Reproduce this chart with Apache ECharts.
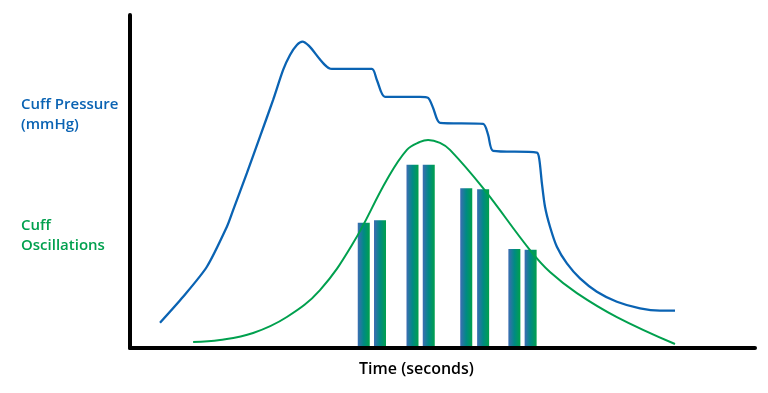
<!DOCTYPE html>
<html>
<head>
<meta charset="utf-8">
<script src="https://cdn.jsdelivr.net/npm/echarts@6/dist/echarts.min.js"></script>
<style>html,body{margin:0;padding:0;background:#fff;}#c{width:768px;height:393px;}</style>
</head>
<body>
<div id="c"></div>
<script>
// Cuff pressure curve: [time, level]
const pressureX = [4.8, 8.5, 12.3, 15.5, 16.5, 18.7, 20.8, 22.9, 24.5, 25.6, 26.7, 27.6, 28.6, 32.3, 38.7, 39.5, 40.8, 46.4, 47.7, 48.5, 49.6, 56.5, 57.3, 58.1, 65.1, 65.5, 65.9, 66.4, 67.2, 68.3, 69.9, 72.0, 74.7, 77.9, 81.6, 84.8, 87.2];
const pressureY = [7.6, 15.4, 24.4, 36.4, 41.4, 52.5, 63.5, 74.5, 83.5, 88.0, 91.0, 92.0, 90.8, 83.8, 83.8, 80.5, 75.4, 75.4, 75.1, 72.1, 67.6, 67.3, 64.0, 59.2, 58.7, 56.5, 49.5, 42.4, 36.4, 30.4, 25.4, 20.9, 16.9, 13.9, 11.9, 11.2, 11.2];
// Oscillation envelope
const envelopeX = [10.1, 14.4, 19.7, 25.1, 30.4, 35.7, 41.1, 44.3, 46.4, 47.7, 49.6, 51.2, 56.5, 64.0, 67.2, 71.5, 77.9, 87.2];
const envelopeY = [1.8, 2.4, 4.5, 9.3, 17.4, 31.5, 50.5, 59.5, 61.9, 62.5, 61.6, 59.5, 48.0, 29.4, 22.8, 16.5, 9.3, 1.2];
// Oscillation bars
const barX = [37.4, 40.0, 45.2, 47.8, 53.8, 56.5, 61.5, 64.1];
const barY = [37.6, 38.4, 55.0, 55.0, 48.0, 47.7, 29.7, 29.5];
const labels = { pressure: ['Cuff Pressure', '(mmHg)'], osc: ['Cuff', 'Oscillations'], time: 'Time (seconds)' };

const zip = (a, b) => a.map((v, i) => [v, b[i]]);
const chart = echarts.init(document.getElementById('c'), null, { renderer: 'canvas' });
const font = '"Open Sans", "Noto Sans", sans-serif';
chart.setOption({
  animation: false,
  backgroundColor: '#ffffff',
  grid: { left: 130, right: 13, top: 15, bottom: 45 },
  xAxis: { type: 'value', min: 0, max: 100, axisLine: { show: true, onZero: false, lineStyle: { color: '#000', width: 4 } }, axisTick: { show: false }, axisLabel: { show: false }, splitLine: { show: false }, z: 10 },
  yAxis: { type: 'value', min: 0, max: 100, axisLine: { show: true, lineStyle: { color: '#000', width: 4 } }, axisTick: { show: false }, axisLabel: { show: false }, splitLine: { show: false }, z: 10 },
  series: [
    { type: 'bar', data: zip(barX, barY), barWidth: 12, z: 1,
      itemStyle: { color: new echarts.graphic.LinearGradient(0, 0, 1, 0, [
        { offset: 0, color: '#3d6cb4' }, { offset: 0.5, color: '#008a84' }, { offset: 1, color: '#00a04c' }]) } },
    { type: 'line', data: zip(pressureX, pressureY), smooth: 0.25, showSymbol: false, z: 3,
      lineStyle: { color: '#0a63b3', width: 2.3 } },
    { type: 'line', data: zip(envelopeX, envelopeY), smooth: 0.4, showSymbol: false, z: 2,
      lineStyle: { color: '#00a04e', width: 2 } }
  ],
  graphic: [
    { type: 'text', left: 21, top: 95, style: { text: labels.pressure.join('\n'), fill: '#0a63b3', font: '600 15px ' + font, lineHeight: 20 } },
    { type: 'text', left: 21, top: 216, style: { text: labels.osc.join('\n'), fill: '#00a04e', font: '600 15px ' + font, lineHeight: 20 } },
    { type: 'text', left: 359, top: 361, style: { text: labels.time, fill: '#000', font: '600 16px ' + font } }
  ]
});
</script>
</body>
</html>
